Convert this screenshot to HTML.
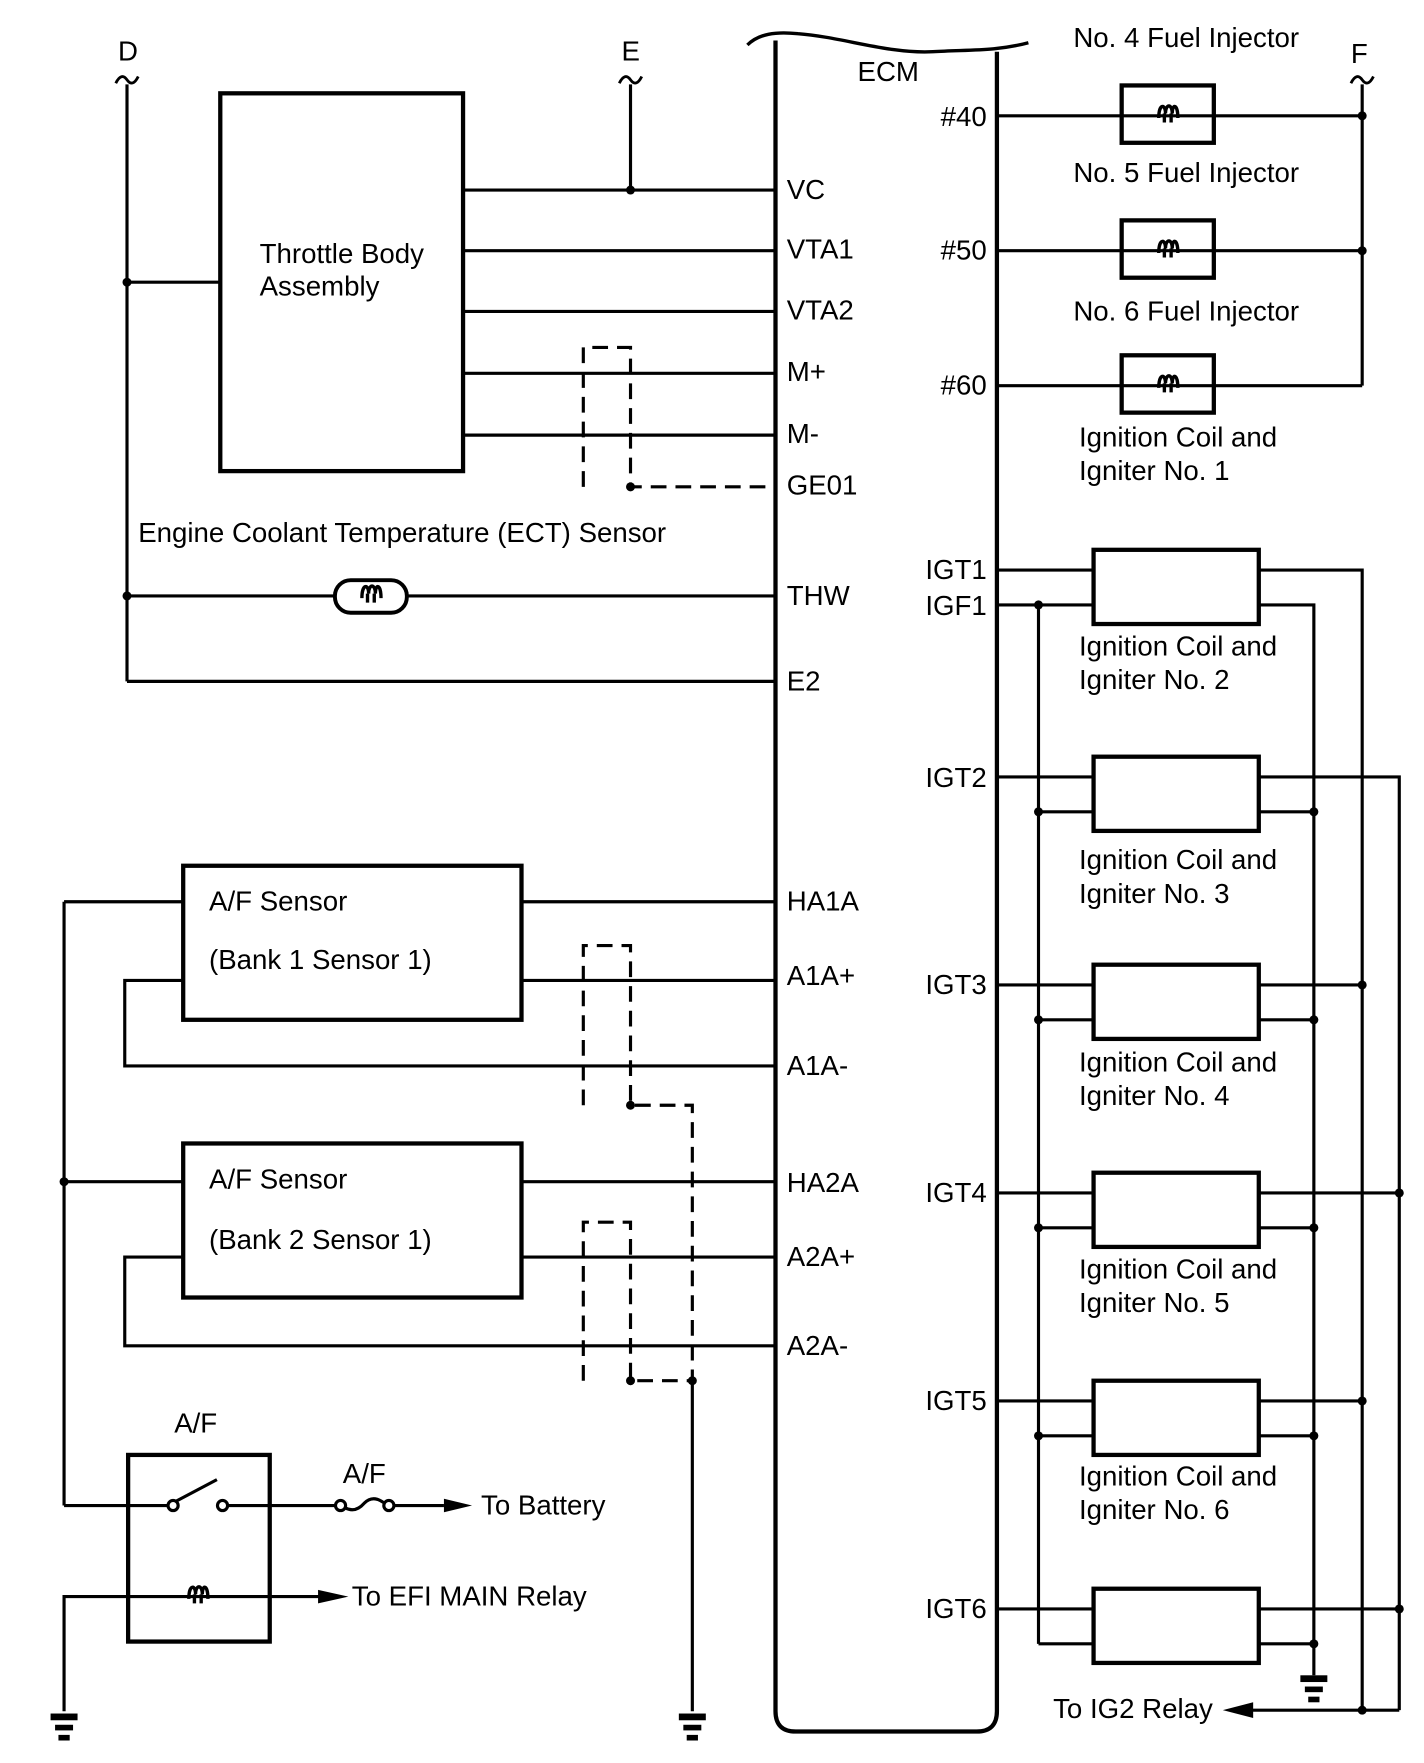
<!DOCTYPE html>
<html><head><meta charset="utf-8"><style>
html,body{margin:0;padding:0;background:#fff;}
svg{display:block;}
text{font-family:"Liberation Sans",Arial,sans-serif;font-size:24.6px;fill:#000;}
</style></head><body>
<svg width="1424" height="1763" viewBox="0 0 1267 1568" preserveAspectRatio="none" xmlns="http://www.w3.org/2000/svg">
<defs>
<g id="coil"><path d="M-8,4 C-8,-9 -2,-9 -2,0 C-2,-9 4,-9 4,0 C4,-9 9,-9 9,4" fill="none" stroke="#000" stroke-width="3"/><path d="M-3,0 v8 M3,0 v8" stroke="#000" stroke-width="3"/></g>
<g id="gnd"><rect x="-12" y="0" width="24" height="6"/><rect x="-8" y="10" width="16" height="5"/><rect x="-5" y="19" width="10" height="5"/></g>
<g id="til"><path d="M-10,4 q5,-10 10,-3 q5,7 10,-3" fill="none" stroke="#000" stroke-width="2.5"/></g>
</defs>
<g stroke="#000" stroke-width="2.8" fill="none">
<path d="M113,75 V606 M113,251 H196"/>
<path d="M561,75 V169"/>
<path d="M412,169 H690 M412,223 H690 M412,277 H690 M412,332 H690 M412,387 H690"/>
<path d="M113,530 H298 M362,530 H690 M113,606 H690"/>
<g stroke-dasharray="14,8">
<path d="M519,433 V309 H561 V433 H690"/>
<path d="M519,983 V841 H561 V983 H616 V1228"/>
<path d="M519,1228 V1087 H561 V1228 H616"/>
</g>
<path d="M616,1228 V1522"/>
<rect x="196" y="83" width="216" height="336" stroke-width="3.8"/>
<rect x="298" y="516" width="64" height="29" rx="14" stroke-width="3.5"/>
<path d="M690,36 V1522 Q690,1540 708,1540 H869 Q887,1540 887,1522 V46" stroke-width="3.8"/>
<path d="M665,40 C675,30 690,28 710,30 C750,33 790,48 830,46 C860,44 885,46 915,38" stroke-width="3"/>
<path d="M887,103 H1212 M887,223 H1212 M887,343 H1212 M1212,75 V343"/>
<rect x="998" y="76" width="82" height="51" fill="#fff" stroke-width="3.8"/>
<rect x="998" y="196" width="82" height="51" fill="#fff" stroke-width="3.8"/>
<rect x="998" y="316" width="82" height="51" fill="#fff" stroke-width="3.8"/>
<path d="M998,103 H1080 M998,223 H1080 M998,343 H1080"/>
<path d="M887,507 H973 M1120,507 H1212 V1521"/>
<path d="M887,538 H973 M1120,538 H1169 V1490 M924,538 V1462"/>
<path d="M887,691 H973 M1120,691 H1245 V1521"/>
<path d="M887,876 H973 M1120,876 H1212 M887,1061 H973 M1120,1061 H1245 M887,1246 H973 M1120,1246 H1212 M887,1431 H973 M1120,1431 H1245"/>
<path d="M924,722 H973 M1120,722 H1169 M924,907 H973 M1120,907 H1169 M924,1092 H973 M1120,1092 H1169 M924,1277 H973 M1120,1277 H1169 M924,1462 H973 M1120,1462 H1169"/>
<path d="M1110,1521 H1245"/>
<g stroke-width="3.8" fill="#fff">
<rect x="973" y="489" width="147" height="66"/>
<rect x="973" y="673" width="147" height="66"/>
<rect x="973" y="858" width="147" height="66"/>
<rect x="973" y="1043" width="147" height="66"/>
<rect x="973" y="1228" width="147" height="66"/>
<rect x="973" y="1413" width="147" height="66"/>
</g>
<path d="M464,802 H690 M57,802 H163 M57,802 V1339 M464,872 H690 M163,872 H111 V948 H690"/>
<path d="M464,1051 H690 M57,1051 H163 M464,1118 H690 M163,1118 H111 V1197 H690"/>
<rect x="163" y="770" width="301" height="137" stroke-width="3.8"/>
<rect x="163" y="1017" width="301" height="137" stroke-width="3.8"/>
<rect x="114" y="1294" width="126" height="166" stroke-width="3.8"/>
<path d="M57,1339 H150 M202,1339 H298 M350,1339 H395"/>
<circle cx="154" cy="1339" r="4.5" fill="#fff"/><circle cx="198" cy="1339" r="4.5" fill="#fff"/>
<path d="M157,1335 L193,1316"/>
<circle cx="303" cy="1339" r="4.5" fill="#fff"/><circle cx="346" cy="1339" r="4.5" fill="#fff"/>
<path d="M307,1341 Q316,1346 324,1337 Q332,1329 342,1337"/>
<path d="M57,1522 V1420 H285"/>
</g>
<use href="#coil" x="330" y="528"/>
<use href="#coil" x="1039" y="101"/>
<use href="#coil" x="1039" y="221"/>
<use href="#coil" x="1039" y="341"/>
<use href="#coil" x="176" y="1418"/>
<polygon points="395,1333 420,1339 395,1345"/>
<polygon points="283,1414 310,1420 283,1426"/>
<polygon points="1088,1521 1115,1514 1115,1528"/>
<use href="#til" x="113" y="70"/><use href="#til" x="561" y="70"/><use href="#til" x="1212" y="70"/>
<use href="#gnd" x="57" y="1524"/><use href="#gnd" x="616" y="1524"/><use href="#gnd" x="1169" y="1490"/>
<g>
<circle cx="113" cy="251" r="4"/><circle cx="113" cy="530" r="4"/><circle cx="561" cy="169" r="4"/><circle cx="561" cy="433" r="4"/>
<circle cx="1212" cy="103" r="4"/><circle cx="1212" cy="223" r="4"/>
<circle cx="924" cy="538" r="4"/><circle cx="924" cy="722" r="4"/><circle cx="924" cy="907" r="4"/><circle cx="924" cy="1092" r="4"/><circle cx="924" cy="1277" r="4"/>
<circle cx="1169" cy="722" r="4"/><circle cx="1169" cy="907" r="4"/><circle cx="1169" cy="1092" r="4"/><circle cx="1169" cy="1277" r="4"/><circle cx="1169" cy="1462" r="4"/>
<circle cx="1212" cy="876" r="4"/><circle cx="1212" cy="1246" r="4"/><circle cx="1212" cy="1521" r="4"/>
<circle cx="1245" cy="1061" r="4"/><circle cx="1245" cy="1431" r="4"/>
<circle cx="561" cy="983" r="4"/><circle cx="561" cy="1228" r="4"/><circle cx="616" cy="1228" r="4"/><circle cx="57" cy="1051" r="4"/>
</g>
<text x="105" y="54">D</text><text x="553" y="54">E</text><text x="1202" y="56">F</text>
<text x="763" y="72">ECM</text>
<text x="231" y="234">Throttle Body</text><text x="231" y="263">Assembly</text>
<g>
<text x="700" y="177">VC</text><text x="700" y="230">VTA1</text><text x="700" y="284">VTA2</text><text x="700" y="339">M+</text><text x="700" y="394">M-</text><text x="700" y="440">GE01</text>
<text x="700" y="538">THW</text><text x="700" y="614">E2</text>
<text x="700" y="810">HA1A</text><text x="700" y="876">A1A+</text><text x="700" y="956">A1A-</text>
<text x="700" y="1060">HA2A</text><text x="700" y="1126">A2A+</text><text x="700" y="1205">A2A-</text>
</g>
<text x="123" y="482">Engine Coolant Temperature (ECT) Sensor</text>
<g text-anchor="end">
<text x="878" y="112">#40</text><text x="878" y="231">#50</text><text x="878" y="351">#60</text>
<text x="878" y="515">IGT1</text><text x="878" y="547">IGF1</text><text x="878" y="700">IGT2</text><text x="878" y="884">IGT3</text><text x="878" y="1069">IGT4</text><text x="878" y="1254">IGT5</text><text x="878" y="1439">IGT6</text>
</g>
<text x="955" y="42">No. 4 Fuel Injector</text><text x="955" y="162">No. 5 Fuel Injector</text><text x="955" y="285">No. 6 Fuel Injector</text>
<text x="960" y="397">Ignition Coil and</text><text x="960" y="427">Igniter No. 1</text>
<text x="960" y="583">Ignition Coil and</text><text x="960" y="613">Igniter No. 2</text>
<text x="960" y="773">Ignition Coil and</text><text x="960" y="803">Igniter No. 3</text>
<text x="960" y="953">Ignition Coil and</text><text x="960" y="983">Igniter No. 4</text>
<text x="960" y="1137">Ignition Coil and</text><text x="960" y="1167">Igniter No. 5</text>
<text x="960" y="1321">Ignition Coil and</text><text x="960" y="1351">Igniter No. 6</text>
<text x="937" y="1528">To IG2 Relay</text>
<text x="186" y="810">A/F Sensor</text><text x="186" y="862">(Bank 1 Sensor 1)</text>
<text x="186" y="1057">A/F Sensor</text><text x="186" y="1111">(Bank 2 Sensor 1)</text>
<text x="155" y="1274">A/F</text><text x="305" y="1319">A/F</text>
<text x="428" y="1347">To Battery</text><text x="313" y="1428">To EFI MAIN Relay</text>
</svg>
</body></html>
